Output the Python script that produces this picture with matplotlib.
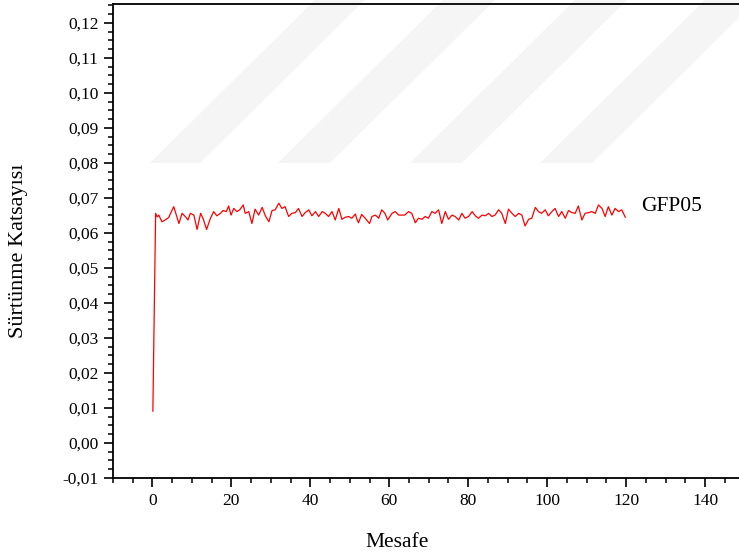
import numpy as np
import matplotlib
matplotlib.use("Agg")
from matplotlib import pyplot as plt
from matplotlib.patches import Polygon
from matplotlib.ticker import MultipleLocator, FuncFormatter

# sliding distance and friction coefficient
distance = [0.1, 0.8, 1.2, 1.6, 2.4, 3.2, 4.1, 5.0, 5.4, 6.7, 7.5, 8.3, 9.0, 9.6, 10.5,
            11.3, 12.2, 12.9, 13.7, 14.7, 15.5, 16.3, 17.2, 17.9, 18.7, 19.3, 19.9,
            20.6, 21.4, 22.1, 23.0, 23.5, 24.4, 25.2, 26.0, 26.9, 27.8, 28.6, 29.5,
            30.3, 31.1, 32.0, 32.8, 33.6, 34.5, 35.3, 36.2, 37.0, 37.9, 38.7, 39.6,
            40.4, 41.3, 42.1, 43.0, 43.8, 44.6, 45.5, 46.3, 47.2, 48.0, 48.9, 49.7,
            50.5, 51.4, 51.8, 52.2, 53.0, 53.9, 55.0, 55.6, 56.5, 57.3, 58.1, 58.9,
            59.6, 60.7, 61.5, 62.4, 63.9, 64.9, 65.7, 66.6, 67.4, 68.3, 69.1, 69.9,
            70.8, 71.6, 72.5, 73.3, 74.2, 75.0, 75.9, 76.7, 77.6, 78.4, 79.2, 80.1,
            81.0, 81.8, 82.6, 83.5, 84.3, 85.2, 86.0, 86.8, 87.7, 88.5, 89.4, 90.2,
            91.1, 91.9, 92.8, 93.6, 94.4, 95.3, 96.1, 97.0, 97.8, 98.6, 99.5, 100.3,
            101.2, 102.0, 102.9, 103.7, 104.6, 105.4, 106.3, 107.1, 107.9, 108.8,
            109.6, 110.5, 111.3, 112.2, 113.0, 113.9, 114.7, 115.5, 116.4, 117.2,
            118.1, 118.9, 119.8]
friction = [0.0091, 0.0656, 0.0646, 0.0651, 0.0632, 0.0637, 0.0644, 0.0666, 0.0675,
            0.0627, 0.0656, 0.0647, 0.0637, 0.0656, 0.0651, 0.0610, 0.0656, 0.0639,
            0.0610, 0.0642, 0.0661, 0.0649, 0.0656, 0.0664, 0.0661, 0.0677, 0.0651,
            0.0670, 0.0661, 0.0666, 0.0680, 0.0656, 0.0661, 0.0627, 0.0668, 0.0651,
            0.0673, 0.0649, 0.0632, 0.0664, 0.0666, 0.0685, 0.0670, 0.0675, 0.0647,
            0.0656, 0.0658, 0.0670, 0.0647, 0.0658, 0.0666, 0.0649, 0.0661, 0.0647,
            0.0661, 0.0656, 0.0647, 0.0661, 0.0637, 0.0670, 0.0639, 0.0645, 0.0647,
            0.0642, 0.0654, 0.0639, 0.0629, 0.0653, 0.0642, 0.0627, 0.0647, 0.0651,
            0.0642, 0.0666, 0.0656, 0.0637, 0.0656, 0.0661, 0.0651, 0.0651, 0.0661,
            0.0656, 0.0629, 0.0642, 0.0639, 0.0647, 0.0642, 0.0661, 0.0656, 0.0666,
            0.0627, 0.0661, 0.0639, 0.0651, 0.0647, 0.0637, 0.0656, 0.0642, 0.0647,
            0.0661, 0.0649, 0.0642, 0.0651, 0.0649, 0.0656, 0.0647, 0.0651, 0.0666,
            0.0656, 0.0627, 0.0668, 0.0656, 0.0647, 0.0656, 0.0651, 0.0620, 0.0639,
            0.0642, 0.0673, 0.0661, 0.0656, 0.0666, 0.0649, 0.0661, 0.0670, 0.0647,
            0.0661, 0.0642, 0.0664, 0.0658, 0.0656, 0.0677, 0.0637, 0.0656, 0.0658,
            0.0661, 0.0656, 0.0680, 0.0670, 0.0647, 0.0675, 0.0651, 0.0670, 0.0661,
            0.0666, 0.0645]
series_name = "GFP05"
x_label = "Mesafe"
y_label = "Sürtünme Katsayısı"

plt.rcParams['font.family'] = ['Liberation Serif', 'DejaVu Serif']

fig = plt.figure(figsize=(7.39, 5.59), dpi=100)

# faint watermark stripes behind the plot (figure pixel coords, y from top)
W, H = 739, 559
stripes = [(150, 50), (278, 52), (410, 52), (540, 52)]
for x0, w in stripes:
    pts = [(x0, 163), (x0 + w, 163), (x0 + w + 175, -10), (x0 + 175, -10)]
    pts = [(px / W, 1 - py / H) for px, py in pts]
    fig.patches.append(Polygon(pts, closed=True, transform=fig.transFigure,
                               facecolor='#f5f5f5', edgecolor='none', zorder=-1))

ax = fig.add_axes([113 / W, 81 / H, 631.5 / W, 474 / H])
ax.patch.set_alpha(0)
ax.set_zorder(1)

ax.plot(distance, friction, color='#ff0000', lw=0.9)
ax.text(123.8, 0.0676, series_name, fontsize=15.5, va='center', ha='left')

ax.set_xlim(-10, 150)
ax.set_ylim(-0.01, 0.1254)
ax.xaxis.set_major_locator(MultipleLocator(20))
ax.xaxis.set_minor_locator(MultipleLocator(5))
ax.yaxis.set_major_locator(MultipleLocator(0.01))
ax.yaxis.set_minor_locator(MultipleLocator(0.0025))
ax.yaxis.set_major_formatter(FuncFormatter(lambda v, p: f"{v:.2f}".replace('.', ',').replace('-0,00', '0,00')))

for s in ['left', 'bottom', 'top', 'right']:
    ax.spines[s].set_linewidth(1.3)
ax.tick_params(which='major', direction='out', length=6.5, width=1.2, labelsize=12.5, pad=4)
ax.tick_params(which='minor', direction='out', length=3.6, width=1.1)
ax.tick_params(top=False, right=False, which='both')

ax.set_xlabel(x_label, fontsize=15.5)
ax.xaxis.label.set_va('center')
ax.xaxis.set_label_coords(0.45, -0.137)
ax.set_ylabel(y_label, fontsize=16)
ax.yaxis.label.set_va('center')
ax.yaxis.set_label_coords(-0.150, 0.48)

fig.savefig("out.png", dpi=100)
